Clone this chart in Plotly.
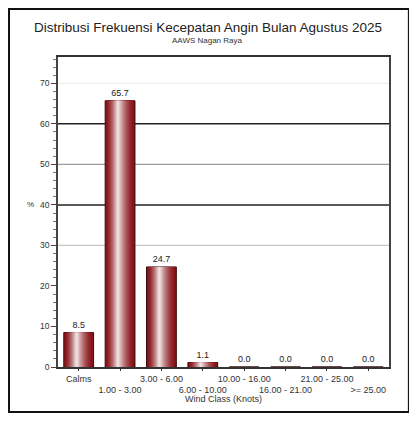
import plotly.graph_objects as go

# data
kelas = ["Calms", "1.00 - 3.00", "3.00 - 6.00", "6.00 - 10.00",
         "10.00 - 16.00", "16.00 - 21.00", "21.00 - 25.00", ">= 25.00"]
persen = [8.5, 65.7, 24.7, 1.1, 0.0, 0.0, 0.0, 0.0]
label_nilai = ["8.5", "65.7", "24.7", "1.1", "0.0", "0.0", "0.0", "0.0"]

grid_y = [30, 40, 50, 60, 70]
grid_warna = ["#c8c8c8", "#222222", "#9a9a9a", "#222222", "#eeeeee"]

x = list(range(len(kelas)))
# labels staggered on two rows
ticktext = [k if i % 2 == 0 else "<br>" + k for i, k in enumerate(kelas)]

fig = go.Figure()

# fake cylinder shading: stacked overlay bars, narrower and lighter toward the middle
n = 14
lebar = 0.72
gelap = (135, 18, 24)
terang = (238, 222, 222)
for k in range(n):
    t = k / (n - 1)
    t2 = t ** 1.6
    c = tuple(int(gelap[j] + (terang[j] - gelap[j]) * t2) for j in range(3))
    w = lebar * (1 - t * 0.92)
    pusat = -0.05 * t
    fig.add_trace(go.Bar(
        x=x, y=persen, width=w, offset=pusat - w / 2,
        marker=dict(color="rgb(%d,%d,%d)" % c,
                    line=dict(color="#3a0a0a" if k == 0 else "rgba(0,0,0,0)",
                              width=1 if k == 0 else 0)),
        text=label_nilai if k == 0 else None,
        textposition="outside", cliponaxis=False,
        textfont=dict(size=9, color="#222", family="Liberation Sans"),
        hoverinfo="skip" if k else None, showlegend=False,
    ))

# horizontal grid lines (only the upper part is drawn in the original)
for gy, gw in zip(grid_y, grid_warna):
    fig.add_shape(type="line", xref="paper", x0=0, x1=1, y0=gy, y1=gy,
                  line=dict(color=gw, width=1.5 if gw == "#222222" else 1.2),
                  layer="below")

# outer frame
fig.add_shape(type="rect", xref="paper", yref="paper",
              x0=-0.148, x1=1.060, y0=-0.145, y1=1.155,
              line=dict(color="#111", width=2))

fig.add_annotation(text="AAWS Nagan Raya", xref="paper", yref="paper",
                   x=0.453, y=1.052, yanchor="middle", showarrow=False,
                   font=dict(size=8, color="#333"))
fig.add_annotation(text="%", xref="paper", yref="y", x=-0.1, y=40,
                   yanchor="middle", showarrow=False,
                   font=dict(size=8, color="#333"))
fig.add_annotation(text="Wind Class (Knots)", xref="paper", yref="paper",
                   x=0.5, y=-0.104, yanchor="middle", showarrow=False,
                   font=dict(size=9, color="#333"))

fig.update_layout(
    width=409, height=413,
    margin=dict(l=50, r=28, t=49, b=54, autoexpand=False),
    barmode="overlay",
    plot_bgcolor="white", paper_bgcolor="white",
    font=dict(family="Liberation Sans", size=9, color="#333"),
    title=dict(text="Distribusi Frekuensi Kecepatan Angin Bulan Agustus 2025",
               x=0.489, xanchor="center", y=0.954, yanchor="middle",
               font=dict(size=13.5, color="#222")),
)
fig.update_xaxes(
    tickvals=x, ticktext=ticktext, range=[-0.5, len(kelas) - 0.5],
    tickangle=0, automargin=False,
    showgrid=False, showline=True, linecolor="#333", linewidth=1.5,
    mirror=True, ticks="outside", ticklen=2, tickcolor="#333",
    tickfont=dict(size=9, color="#333"),
)
fig.update_yaxes(
    range=[0, 76.5], tickvals=[0, 10, 20, 30, 40, 50, 60, 70],
    automargin=False,
    showgrid=False, showline=True, linecolor="#444", linewidth=1.5,
    mirror=True, ticks="outside", ticklen=5, tickcolor="#444",
    tickfont=dict(size=8.5, color="#333"), zeroline=False,
    minor=dict(dtick=2, ticks="outside", ticklen=3, tickcolor="#777",
               showgrid=False),
)

fig.write_html("out.html")
